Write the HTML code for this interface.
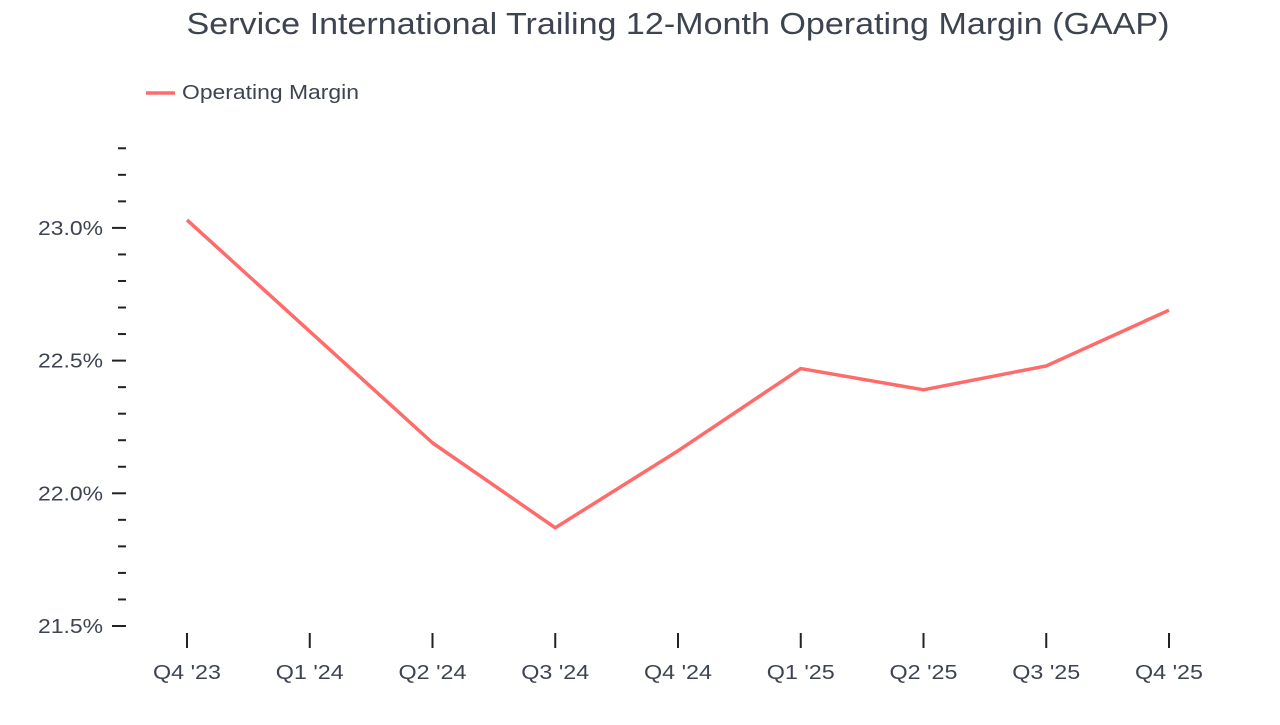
<!DOCTYPE html>
<html><head><meta charset="utf-8"><style>
body{margin:0;background:#fff;font-family:"Liberation Sans",Arial,sans-serif;}
svg text{font-family:"Liberation Sans",Arial,sans-serif;fill:#3d4451;}
</style></head><body>
<svg width="1280" height="720">
<text x="678" y="34" font-size="31" text-anchor="middle" textLength="983" lengthAdjust="spacingAndGlyphs">Service International Trailing 12-Month Operating Margin (GAAP)</text>
<g>
<line x1="146" y1="93" x2="175" y2="93" stroke="#ff6b6b" stroke-width="3.5"/>
<text x="182" y="99" font-size="20" textLength="177" lengthAdjust="spacingAndGlyphs">Operating Margin</text>
</g>
<g id="yaxis"></g>
<g id="xaxis"></g>
<path id="line" fill="none" stroke="#ff6b6b" stroke-width="3.5" stroke-linejoin="round"/>
</svg>
<script>
const categories=["Q4 '23","Q1 '24","Q2 '24","Q3 '24","Q4 '24","Q1 '25","Q2 '25","Q3 '25","Q4 '25"];
const marginValues=[23.03,22.61,22.19,21.87,22.16,22.47,22.39,22.48,22.69];
const yTickLabels=["21.5%","22.0%","22.5%","23.0%"];
const yTickValues=[21.5,22.0,22.5,23.0];
const yMin=21.5,yMax=23.3;
const NS="http://www.w3.org/2000/svg";
function yScale(v){return 626-(v-21.5)/0.5*132.7;}
function xScale(i){return 187+i*(1169-187)/(categories.length-1);}
const ya=document.getElementById('yaxis'),xa=document.getElementById('xaxis');
function mk(t,a,p){const e=document.createElementNS(NS,t);for(const k in a)e.setAttribute(k,a[k]);p.appendChild(e);return e;}
for(let k=0;k<=Math.round((yMax-yMin)*10);k++){
 const v=yMin+k*0.1,y=yScale(v),major=k%5===0;
 const t=mk('line',{x1:major?112:118,x2:126,y1:y,y2:y,stroke:'#222','stroke-width':2},ya);
 
 
}
yTickValues.forEach((v,i)=>{
 const t=mk('text',{x:103,y:yScale(v)+7,'font-size':20,'text-anchor':'end',textLength:65,lengthAdjust:'spacingAndGlyphs'},ya);t.textContent=yTickLabels[i];
 
 
});
categories.forEach((c,i)=>{
 const x=xScale(i);
 const t=mk('line',{x1:x,x2:x,y1:633,y2:648,stroke:'#222','stroke-width':2},xa);
 
 
 const l=mk('text',{x:x,y:679,'font-size':20,'text-anchor':'middle',textLength:68,lengthAdjust:'spacingAndGlyphs'},xa);l.textContent=c;
 
 
});
document.getElementById('line').setAttribute('d',marginValues.map((v,i)=>(i?'L':'M')+xScale(i)+','+yScale(v)).join(' '));
</script>
</body></html>
